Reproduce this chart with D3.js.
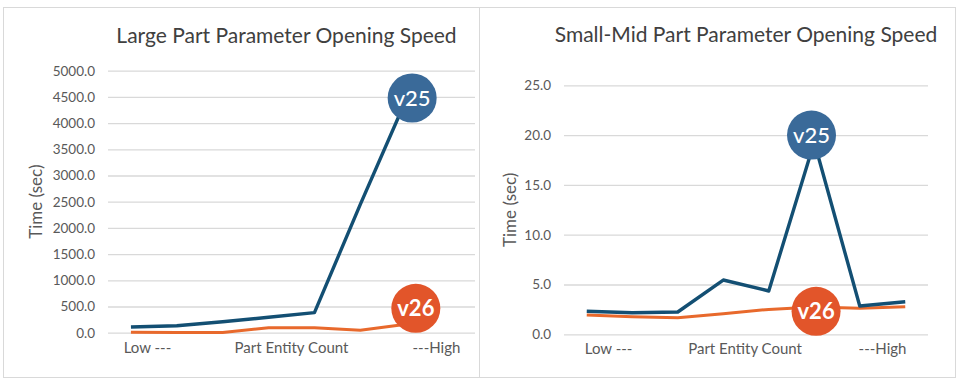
<!DOCTYPE html>
<html>
<head>
<meta charset="utf-8">
<script src="https://cdn.jsdelivr.net/npm/d3@7"></script>
<style>
  html, body { margin: 0; padding: 0; background: #fff; }
  svg { display: block; font-family: Lato, "Open Sans", sans-serif; }
</style>
</head>
<body>
<svg id="chart" width="960" height="389"></svg>
<script>
// ---- data ----
const categories = ["c1", "c2", "c3", "c4", "c5", "c6", "c7", "c8"];
const seriesNames = ["v25", "v26"];

const largeV25 = [109, 133, 210, 294, 382, 2450, 4450, null];
const largeV26 = [8, 6, 5, 95, 95, 45, 160, null];
const largeTicks = [0, 500, 1000, 1500, 2000, 2500, 3000, 3500, 4000, 4500, 5000];

const smallV25 = [2.31, 2.17, 2.24, 5.45, 4.35, 19.3, 2.84, 3.27];
const smallV26 = [1.94, 1.77, 1.67, 2.07, 2.5, 2.75, 2.61, 2.77];
const smallTicks = [0, 5, 10, 15, 20, 25];

const xLabels = ["Low ---", "Part Entity Count", "---High"];
const largeLabelAt = [0.36, 3.5, 6.66];
const smallLabelAt = [0.48, 3.48, 6.5];

// badge anchors (category position, value)
const largeBadges = [{name: "v25", at: 6.13, value: 4479}, {name: "v26", at: 6.21, value: 466}];
const smallBadges = [{name: "v25", at: 4.94, value: 20.0}, {name: "v26", at: 5.04, value: 2.31}];

const titles = ["Large Part Parameter Opening Speed", "Small-Mid Part Parameter Opening Speed"];
const yTitle = "Time (sec)";

// ---- styles ----
const colors = { v25: "#134f73", v26: "#e8692c" };
const badgeFill = { v25: "#3a6a99", v26: "#e2552a" };

const svg = d3.select("#chart");

function panel(cfg) {
  const g = svg.append("g");
  // frame
  g.append("rect")
    .attr("x", cfg.box[0]).attr("y", cfg.box[1])
    .attr("width", cfg.box[2]).attr("height", cfg.box[3])
    .attr("fill", "#fff").attr("stroke", "#d9d9d9").attr("stroke-width", 1);

  const x = d3.scaleLinear().domain([-0.5, categories.length - 0.5]).range([cfg.plot.left, cfg.plot.right]);
  const y = d3.scaleLinear().domain([0, d3.max(cfg.ticks)]).range([cfg.plot.bottom, cfg.plot.top]);

  // y axis + gridlines
  const axis = d3.axisLeft(y).tickValues(cfg.ticks).tickFormat(d3.format(".1f"))
    .tickSize(-(cfg.plot.right - cfg.plot.left)).tickPadding(13);
  const ag = g.append("g").attr("transform", `translate(${cfg.plot.left},0)`).call(axis);
  ag.select(".domain").remove();
  ag.selectAll(".tick line").attr("stroke", "#d9d9d9").attr("stroke-width", 1.3);
  ag.selectAll(".tick text").attr("fill", "#595959").attr("font-size", 13.5)
    .attr("font-family", "Lato, sans-serif");

  // title
  g.append("text")
    .attr("x", (cfg.plot.left + cfg.plot.right) / 2 + cfg.titleDx)
    .attr("y", cfg.titleY)
    .attr("text-anchor", "middle")
    .attr("fill", "#404040")
    .attr("font-size", 21)
    .text(cfg.title);

  // y title
  g.append("text")
    .attr("transform", `translate(${cfg.yTitleX},${(cfg.plot.top + cfg.plot.bottom) / 2}) rotate(-90)`)
    .attr("text-anchor", "middle")
    .attr("dy", "0.35em")
    .attr("fill", "#595959")
    .style("font-size", "17px")
    .style("font-family", "Lato, sans-serif")
    .text(yTitle);

  // x labels
  g.selectAll(".xl").data(xLabels).enter().append("text")
    .attr("x", (d, i) => x(cfg.labelAt[i]))
    .attr("y", cfg.plot.bottom + 20)
    .attr("text-anchor", "middle")
    .attr("fill", "#595959")
    .attr("font-size", 15)
    .text(d => d);

  // lines
  const line = d3.line()
    .defined(d => d != null)
    .x((d, i) => x(i))
    .y(d => y(d));
  const series = [{name: "v26", values: cfg.v26}, {name: "v25", values: cfg.v25}];
  g.selectAll(".ln").data(series).enter().append("path")
    .attr("d", d => line(d.values))
    .attr("fill", "none")
    .attr("stroke", d => colors[d.name])
    .attr("stroke-width", d => d.name === "v25" ? 3.4 : 3)
    .attr("stroke-linejoin", "round");

  // badges
  const b = g.selectAll(".badge").data(cfg.badges).enter().append("g")
    .attr("transform", d => `translate(${x(d.at)},${y(d.value)})`);
  b.append("circle").attr("r", 24.5)
    .attr("fill", d => badgeFill[d.name]);
  b.append("text")
    .attr("text-anchor", "middle")
    .attr("dy", "0.35em")
    .attr("fill", "#fff")
    .attr("font-weight", d => d.name === "v26" ? 700 : 500)
    .attr("font-size", 22)
    .text(d => d.name);
}

panel({
  box: [3.5, 7.5, 476, 370],
  plot: {left: 108, right: 475, top: 70.7, bottom: 332.7},
  ticks: largeTicks, v25: largeV25, v26: largeV26,
  labelAt: largeLabelAt, badges: largeBadges,
  title: titles[0], titleY: 43, titleDx: -5, yTitleX: 36
});
panel({
  box: [479.5, 7.5, 476, 370],
  plot: {left: 564, right: 928, top: 85.3, bottom: 334.3},
  ticks: smallTicks, v25: smallV25, v26: smallV26,
  labelAt: smallLabelAt, badges: smallBadges,
  title: titles[1], titleY: 42, titleDx: 0, yTitleX: 510
});
</script>
</body>
</html>
